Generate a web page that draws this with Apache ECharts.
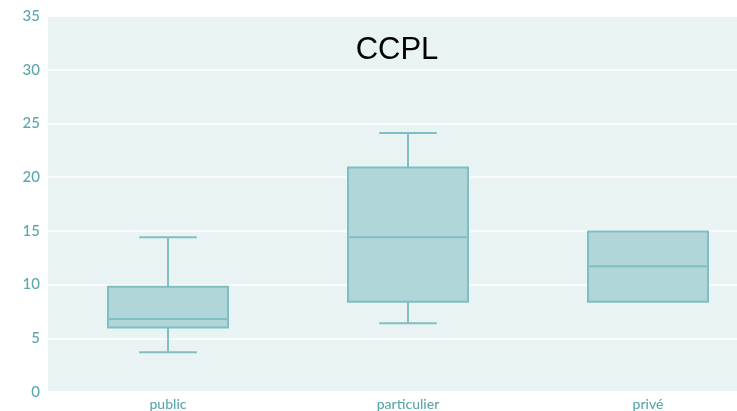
<!DOCTYPE html>
<html lang="fr">
<head>
    <meta charset="UTF-8">
    <title>CCPL</title>
    <script src="https://cdn.jsdelivr.net/npm/echarts@6/dist/echarts.min.js"></script>
    <style>
        html, body { margin: 0; padding: 0; background: #fff; overflow: hidden; }
        #main { width: 768px; height: 411px; }
    </style>
</head>
<body>
<div id="main"></div>
<script>
    // categories and box stats
    var categories = ['public', 'particulier', 'privé'];
    var lowValues = [3.7, 6.4, 8.4];
    var q1Values = [6.0, 8.4, 8.4];
    var medianValues = [6.8, 14.4, 11.7];
    var q3Values = [9.8, 20.9, 14.95];
    var highValues = [14.4, 24.1, 14.95];
    var yTicks = [0, 5, 10, 15, 20, 25, 30, 35];

    var boxData = [];
    for (var i = 0; i < categories.length; i++) {
        boxData.push([i, lowValues[i], q1Values[i], medianValues[i], q3Values[i], highValues[i]]);
    }

    var fillColor = '#b0d6d9';
    var lineColor = '#7fbfc3';

    function renderBox(params, api) {
        var x = api.value(0);
        var pLow = api.coord([x, api.value(1)]);
        var pQ1 = api.coord([x, api.value(2)]);
        var pMed = api.coord([x, api.value(3)]);
        var pQ3 = api.coord([x, api.value(4)]);
        var pHigh = api.coord([x, api.value(5)]);
        var band = api.size([1, 0])[0];
        var half = band * 0.25;
        var cap = band * 0.12;
        var cx = pMed[0];
        var stroke = { stroke: lineColor, lineWidth: 2 };
        var kids = [];
        kids.push({
            type: 'rect',
            shape: { x: cx - half, y: pQ3[1], width: half * 2, height: pQ1[1] - pQ3[1] },
            style: { fill: fillColor, stroke: lineColor, lineWidth: 2 }
        });
        kids.push({ type: 'line', shape: { x1: cx - half, y1: pMed[1], x2: cx + half, y2: pMed[1] }, style: stroke });
        if (api.value(5) > api.value(4)) {
            kids.push({ type: 'line', shape: { x1: cx, y1: pQ3[1], x2: cx, y2: pHigh[1] }, style: stroke });
            kids.push({ type: 'line', shape: { x1: cx - cap, y1: pHigh[1], x2: cx + cap, y2: pHigh[1] }, style: stroke });
        }
        if (api.value(1) < api.value(2)) {
            kids.push({ type: 'line', shape: { x1: cx, y1: pQ1[1], x2: cx, y2: pLow[1] }, style: stroke });
            kids.push({ type: 'line', shape: { x1: cx - cap, y1: pLow[1], x2: cx + cap, y2: pLow[1] }, style: stroke });
        }
        return { type: 'group', children: kids };
    }

    // the plot runs past the right edge of the 737px picture, so the div is wider
    var myChart = echarts.init(document.getElementById('main'));
    var option = {
        backgroundColor: '#ffffff',
        animation: false,
        title: {
            text: 'CCPL',
            left: 392,
            top: 30,
            textAlign: 'center',
            textStyle: { fontFamily: 'Liberation Sans', fontSize: 31, fontWeight: 'normal', color: '#000' }
        },
        grid: {
            left: 48,
            right: 0,
            top: 16,
            bottom: 19,
            show: true,
            backgroundColor: '#e9f3f4',
            borderWidth: 0
        },
        xAxis: {
            type: 'category',
            data: categories,
            boundaryGap: true,
            axisLine: { show: false },
            axisTick: { show: false },
            axisLabel: { color: '#5aa7ac', fontFamily: 'Lato', fontSize: 14, fontWeight: 500, margin: 5 },
            splitLine: { show: false }
        },
        yAxis: {
            type: 'value',
            min: yTicks[0],
            max: yTicks[yTicks.length - 1],
            interval: 5,
            axisLine: { show: false },
            axisTick: { show: false },
            axisLabel: { color: '#5aa7ac', fontFamily: 'Lato', fontSize: 15, fontWeight: 500, margin: 8 },
            splitLine: { show: true, lineStyle: { color: '#ffffff', width: 1.5 } }
        },
        series: [{
            type: 'custom',
            renderItem: renderBox,
            encode: { x: 0, y: [1, 2, 3, 4, 5] },
            data: boxData
        }]
    };
    myChart.setOption(option);
</script>
</body>
</html>
